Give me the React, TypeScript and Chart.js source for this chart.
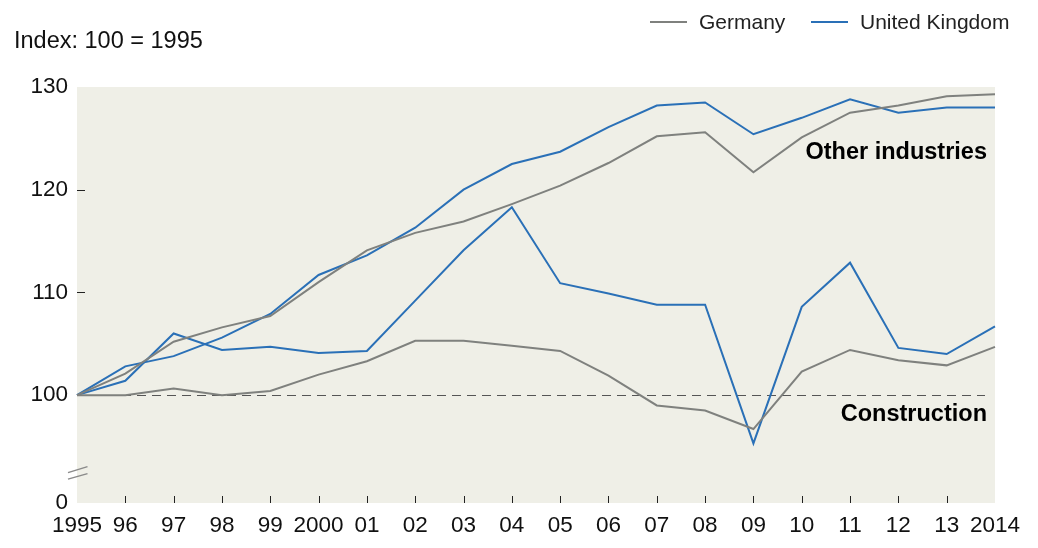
import React, { useEffect, useRef } from "react";
import { Chart, registerables } from "chart.js";

Chart.register(...registerables);

const years = ["1995", "96", "97", "98", "99", "2000", "01", "02", "03", "04", "05", "06", "07", "08", "09", "10", "11", "12", "13", "2014"];
const germanyOther = [100, 102.1, 105.2, 106.6, 107.7, 111.0, 114.1, 115.8, 116.9, 118.6, 120.4, 122.6, 125.2, 125.6, 121.7, 125.1, 127.5, 128.2, 129.1, 129.3];
const ukOther = [100, 102.8, 103.8, 105.6, 107.9, 111.7, 113.6, 116.3, 120.0, 122.5, 123.7, 126.1, 128.2, 128.5, 125.4, 127.0, 128.8, 127.5, 128.0, 128.0];
const germanyConstruction = [100, 100.0, 100.65, 100.0, 100.4, 102.0, 103.3, 105.3, 105.3, 104.8, 104.3, 101.9, 99.0, 98.5, 96.7, 102.3, 104.4, 103.4, 102.9, 104.7];
const ukConstruction = [100, 101.4, 106.0, 104.4, 104.7, 104.1, 104.3, 109.2, 114.1, 118.3, 110.9, 109.9, 108.8, 108.8, 95.3, 108.6, 112.9, 104.6, 104.0, 106.7];
const yTickValues = [89.5, 100, 110, 120, 130];
const yTickLabels = ["0", "100", "110", "120", "130"];
const seriesNames = ["Germany", "United Kingdom"];

const GRAY = "#7f817e";
const BLUE = "#2a70b7";
const BG = "#efefe7";
const FONT = "'Liberation Sans', Arial, Helvetica, sans-serif";

export default function App() {
  const ref = useRef<HTMLCanvasElement | null>(null);

  useEffect(() => {
    document.body.style.margin = "0";
    const canvas = ref.current;
    if (!canvas) return;

    const decor = {
      id: "decor",
      beforeDraw(chart: any) {
        const { ctx, chartArea: a } = chart;
        ctx.save();
        ctx.fillStyle = BG;
        ctx.fillRect(a.left, a.top, a.right - a.left, a.bottom - a.top);
        ctx.restore();
      },
      beforeDatasetsDraw(chart: any) {
        const { ctx, chartArea: a, scales } = chart;
        const y = scales.y;
        const x = scales.x;
        ctx.save();
        // dashed reference line at 100
        const y100 = Math.round(y.getPixelForValue(100)) + 0.5;
        ctx.strokeStyle = "#555555";
        ctx.lineWidth = 1;
        ctx.setLineDash([9, 6]);
        ctx.beginPath();
        ctx.moveTo(a.left, y100);
        ctx.lineTo(a.right - 10, y100);
        ctx.stroke();
        ctx.setLineDash([]);
        // inner y ticks
        ctx.strokeStyle = "#222222";
        [110, 120].forEach((v) => {
          const py = Math.round(y.getPixelForValue(v)) + 0.5;
          ctx.beginPath();
          ctx.moveTo(a.left, py);
          ctx.lineTo(a.left + 8, py);
          ctx.stroke();
        });
        // inner x ticks
        for (let i = 1; i < years.length - 1; i++) {
          const px = Math.round(x.getPixelForValue(i)) + 0.5;
          ctx.beginPath();
          ctx.moveTo(px, a.bottom);
          ctx.lineTo(px, a.bottom - 7);
          ctx.stroke();
        }
        // axis break marks
        const yb = y.getPixelForValue(92.7);
        ctx.strokeStyle = "#8a8a8a";
        ctx.lineWidth = 1.5;
        ctx.beginPath();
        ctx.moveTo(a.left - 9, yb + 2.5);
        ctx.lineTo(a.left + 10.5, yb - 3.5);
        ctx.moveTo(a.left - 9, yb + 9);
        ctx.lineTo(a.left + 10.5, yb + 3.5);
        ctx.stroke();
        ctx.restore();
      },
      afterDraw(chart: any) {
        const { ctx } = chart;
        ctx.save();
        ctx.textBaseline = "middle";
        // title
        ctx.fillStyle = "#111111";
        ctx.font = `23.5px ${FONT}`;
        ctx.textAlign = "left";
        ctx.fillText("Index: 100 = 1995", 14, 42);
        // legend
        const items = [
          { label: seriesNames[0], color: GRAY, x: 650 },
          { label: seriesNames[1], color: BLUE, x: 811 },
        ];
        ctx.font = `21px ${FONT}`;
        items.forEach((it) => {
          ctx.strokeStyle = it.color;
          ctx.lineWidth = 2;
          ctx.beginPath();
          ctx.moveTo(it.x, 22);
          ctx.lineTo(it.x + 37, 22);
          ctx.stroke();
          ctx.fillStyle = "#222222";
          ctx.fillText(it.label, it.x + 49, 23);
        });
        // annotations
        ctx.fillStyle = "#000000";
        ctx.font = `bold 23.5px ${FONT}`;
        ctx.textAlign = "right";
        ctx.fillText("Other industries", 987, 153);
        ctx.fillText("Construction", 987, 415);
        ctx.restore();
      },
    };

    const chart = new Chart(canvas, {
      type: "line",
      data: {
        labels: years,
        datasets: [
          { label: "Germany other industries", data: germanyOther, borderColor: GRAY },
          { label: "Germany construction", data: germanyConstruction, borderColor: GRAY },
          { label: "United Kingdom other industries", data: ukOther, borderColor: BLUE },
          { label: "United Kingdom construction", data: ukConstruction, borderColor: BLUE },
        ].map((d) => ({
          ...d,
          borderWidth: 2,
          pointRadius: 0,
          tension: 0,
          fill: false,
        })),
      },
      options: {
        animation: false,
        responsive: true,
        maintainAspectRatio: false,
        layout: { padding: { left: 0, right: 43, top: 87, bottom: 0 } },
        plugins: {
          legend: { display: false },
          tooltip: { enabled: false },
        },
        scales: {
          x: {
            type: "category",
            offset: false,
            grid: { display: false },
            border: { display: false },
            ticks: {
              autoSkip: false,
              maxRotation: 0,
              padding: 1,
              color: "#111111",
              font: { size: 22.5, family: FONT },
            },
            afterFit(scale: any) {
              scale.height = 45;
            },
          },
          y: {
            min: 89.5,
            max: 130,
            grid: { display: false },
            border: { display: false },
            afterBuildTicks(scale: any) {
              scale.ticks = yTickValues.map((v) => ({ value: v }));
            },
            ticks: {
              padding: 1,
              color: "#111111",
              font: { size: 22.5, family: FONT },
              callback(value: any) {
                const i = yTickValues.indexOf(Number(value));
                return i >= 0 ? yTickLabels[i] : "";
              },
            },
            afterFit(scale: any) {
              scale.width = 77;
            },
          },
        },
      },
      plugins: [decor],
    });

    return () => chart.destroy();
  }, []);

  return (
    <div style={{ position: "relative", width: 1038, height: 548 }}>
      <canvas ref={ref} />
    </div>
  );
}
